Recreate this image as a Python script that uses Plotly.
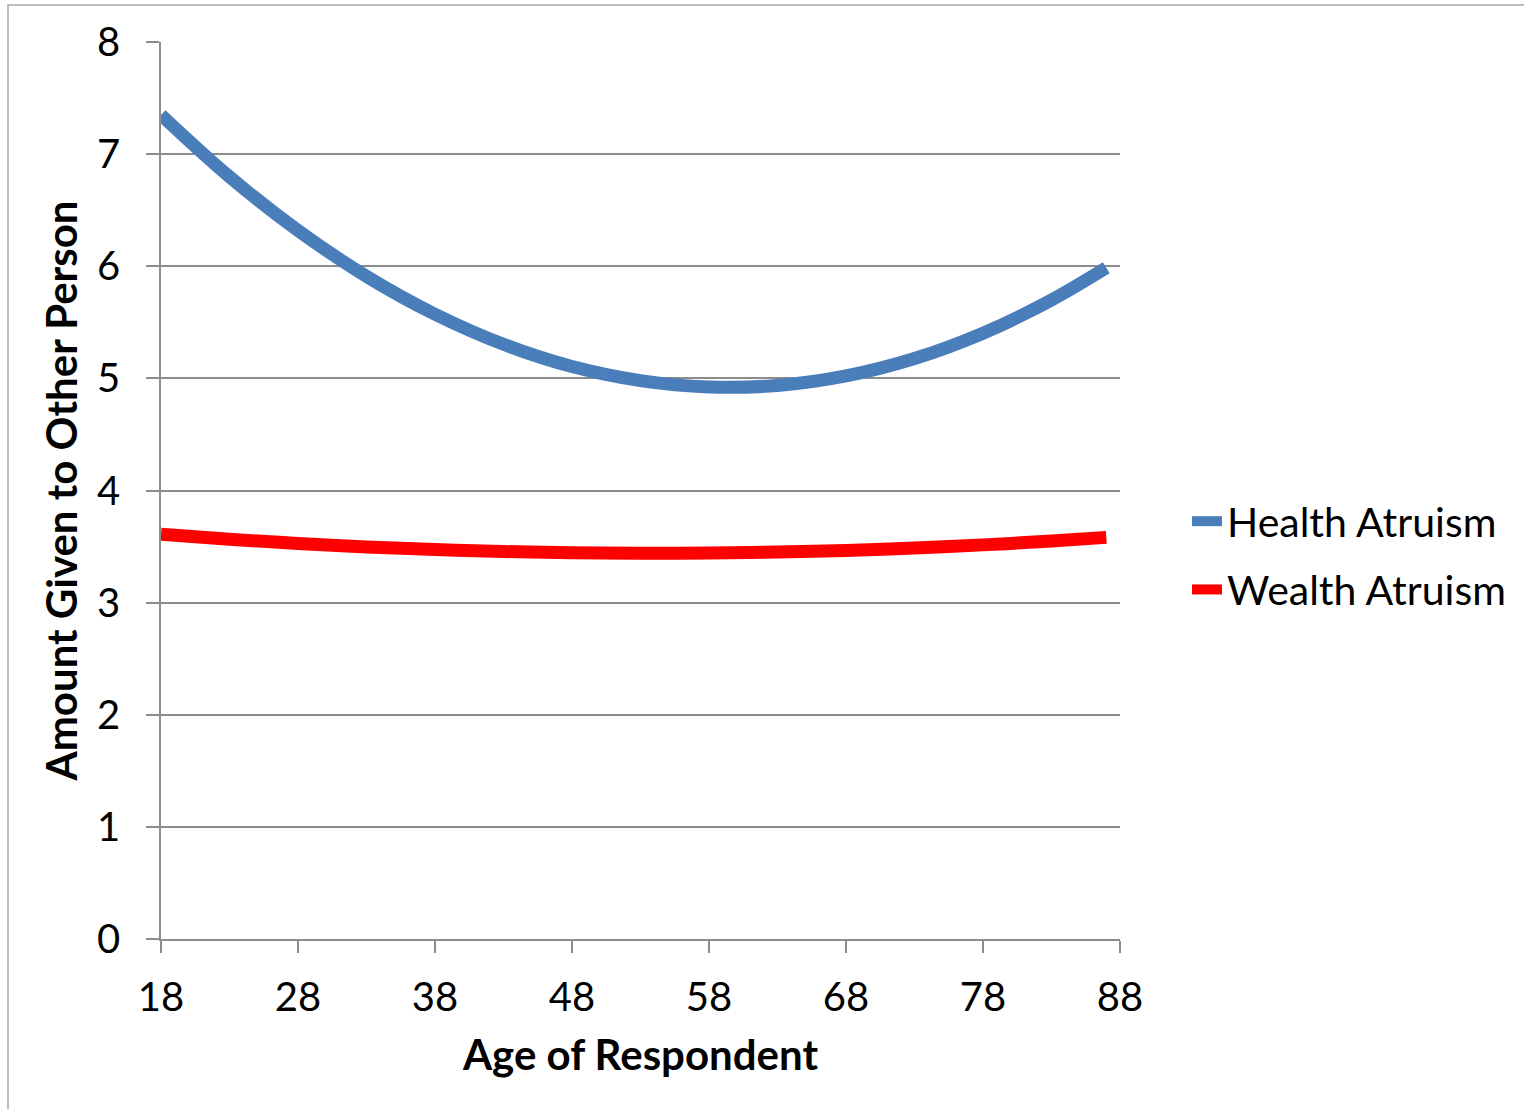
import plotly.graph_objects as go

# Respondent age and mean amount given to the other person (fitted curves)
ages = [18, 23, 28, 33, 38, 43, 48, 53, 58, 63, 68, 73, 78, 83, 87]
health_altruism = [7.350, 6.798, 6.319, 5.910, 5.572, 5.304, 5.106, 4.980,
                   4.923, 4.937, 5.022, 5.177, 5.403, 5.699, 5.986]
wealth_altruism = [3.610, 3.565, 3.528, 3.497, 3.473, 3.456, 3.445, 3.440,
                   3.442, 3.451, 3.465, 3.487, 3.515, 3.549, 3.582]

x_ticks = [18, 28, 38, 48, 58, 68, 78, 88]
y_ticks = [0, 1, 2, 3, 4, 5, 6, 7, 8]

FONT = "Lato"
GRID = "#8c8c8c"
TICK_SIZE = 40
TITLE_SIZE = 42
LEGEND_SIZE = 41

fig = go.Figure()
fig.add_trace(go.Scatter(
    x=ages, y=health_altruism, mode="lines", name="Health Atruism",
    line=dict(color="#4a7ebb", width=13, shape="spline", smoothing=1.0),
    legendgroup="h",
))
fig.add_trace(go.Scatter(
    x=ages, y=wealth_altruism, mode="lines", name="Wealth Atruism",
    line=dict(color="#ff0000", width=13, shape="spline", smoothing=1.0),
    legendgroup="w",
))

W, H = 1524, 1109
L, R, T, B = 161, 404, 42, 170
pw, ph = W - L - R, H - T - B

fig.update_layout(
    width=W, height=H,
    margin=dict(l=L, r=R, t=T, b=B, pad=0),
    paper_bgcolor="white", plot_bgcolor="white",
    font=dict(family=FONT, size=TICK_SIZE, color="black"),
    showlegend=True,
    legend=dict(
        x=(1187 - L) / pw, y=1 - (488 - T) / ph,
        xanchor="left", yanchor="top",
        font=dict(family=FONT, size=LEGEND_SIZE, color="black"),
        tracegroupgap=12, itemwidth=30,
        bgcolor="rgba(0,0,0,0)",
    ),
    xaxis=dict(
        range=[18, 88], tickvals=x_ticks, ticktext=[str(v) for v in x_ticks],
        showgrid=False, zeroline=False,
        showline=True, linecolor=GRID, linewidth=1.5,
        ticks="outside", ticklen=12, tickwidth=1.5, tickcolor=GRID,
        tickfont=dict(family=FONT, size=TICK_SIZE, color="black"),
        ticklabelstandoff=10,
        title=dict(text="<b>Age of Respondent</b>",
                   font=dict(family=FONT, size=TITLE_SIZE, color="black"),
                   standoff=22),
        automargin=False,
    ),
    yaxis=dict(
        range=[0, 8], tickvals=y_ticks,
        showgrid=True, gridcolor=GRID, gridwidth=1.5,
        zeroline=False,
        showline=True, linecolor=GRID, linewidth=1.5,
        ticks="outside", ticklen=13, tickwidth=1.5, tickcolor=GRID,
        tickfont=dict(family=FONT, size=TICK_SIZE, color="black"),
        ticklabelstandoff=18,
        title=dict(text="<b>Amount Given to Other Person</b>",
                   font=dict(family=FONT, size=TITLE_SIZE, color="black"),
                   standoff=6),
        automargin=False,
    ),
    shapes=[dict(
        type="rect", xref="paper", yref="paper",
        x0=(8 - L) / pw, x1=(W + 20 - L) / pw,
        y0=-(H + 20 - T - ph) / ph, y1=1 + (T - 5) / ph,
        line=dict(color="#a6a6a6", width=1.5), fillcolor="rgba(0,0,0,0)",
        layer="below",
    )],
)

fig.write_html("out.html")
